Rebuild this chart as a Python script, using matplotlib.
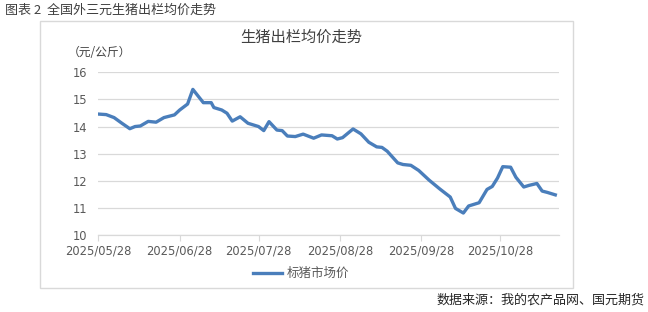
import matplotlib
matplotlib.use("Agg")
import matplotlib.pyplot as plt
import pandas as pd
from matplotlib.patches import Rectangle
from matplotlib.lines import Line2D

plt.rcParams['font.family'] = ['Noto Sans CJK SC', 'DejaVu Sans']

dates = ["2025-05-28", "2025-05-31", "2025-06-03", "2025-06-06", "2025-06-09", "2025-06-11",
         "2025-06-13", "2025-06-16", "2025-06-19", "2025-06-22", "2025-06-26", "2025-06-28",
         "2025-07-01", "2025-07-03", "2025-07-07", "2025-07-10", "2025-07-11", "2025-07-14",
         "2025-07-16", "2025-07-18", "2025-07-21", "2025-07-24", "2025-07-28", "2025-07-30",
         "2025-08-01", "2025-08-04", "2025-08-06", "2025-08-08", "2025-08-11", "2025-08-14",
         "2025-08-18", "2025-08-21", "2025-08-25", "2025-08-27", "2025-08-29", "2025-09-02",
         "2025-09-05", "2025-09-08", "2025-09-11", "2025-09-13", "2025-09-15", "2025-09-19",
         "2025-09-21", "2025-09-24", "2025-09-27", "2025-09-29", "2025-10-01", "2025-10-05",
         "2025-10-09", "2025-10-11", "2025-10-14", "2025-10-16", "2025-10-20", "2025-10-23",
         "2025-10-25", "2025-10-27", "2025-10-29", "2025-11-01", "2025-11-03", "2025-11-06",
         "2025-11-08", "2025-11-11", "2025-11-13", "2025-11-15", "2025-11-18"]
prices = [14.46, 14.44, 14.33, 14.12, 13.92, 14.00,
          14.02, 14.19, 14.16, 14.33, 14.43, 14.61,
          14.83, 15.37, 14.88, 14.88, 14.70, 14.61,
          14.49, 14.20, 14.36, 14.12, 14.00, 13.85,
          14.18, 13.87, 13.85, 13.65, 13.63, 13.72,
          13.57, 13.69, 13.66, 13.54, 13.59, 13.91,
          13.73, 13.42, 13.25, 13.23, 13.09, 12.66,
          12.60, 12.57, 12.38, 12.20, 12.02, 11.70,
          11.40, 10.98, 10.81, 11.07, 11.19, 11.68,
          11.79, 12.10, 12.52, 12.50, 12.13, 11.77,
          11.83, 11.90, 11.62, 11.57, 11.48]
tick_dates = ["2025-05-28", "2025-06-28", "2025-07-28", "2025-08-28", "2025-09-28", "2025-10-28"]
tick_labels = ["2025/05/28", "2025/06/28", "2025/07/28", "2025/08/28", "2025/09/28", "2025/10/28"]
y_ticks = [10, 11, 12, 13, 14, 15, 16]

W, H = 648, 312
fig = plt.figure(figsize=(W / 100, H / 100), dpi=100)

# outer chart box
fig.patches.append(Rectangle((40 / W, 1 - 288 / H), (573 - 40) / W, (288 - 21) / H,
                             transform=fig.transFigure, fill=False,
                             edgecolor='#d9d9d9', linewidth=1.0))

ax = fig.add_axes([98.3 / W, 1 - 235 / H, (558.7 - 98.3) / W, (235 - 72.3) / H])
x = pd.to_datetime(dates)
ax.plot(x, prices, color='#4a7ebb', linewidth=2.4, solid_joinstyle='round')

start = pd.Timestamp("2025-05-28")
ax.set_xlim(start, start + pd.Timedelta(days=175.3))
ax.set_ylim(10, 16)
ax.set_yticks(y_ticks)
ax.set_yticklabels([str(v) for v in y_ticks], fontsize=8.3, color='#595959',
                   family='DejaVu Sans')
ax.set_xticks(pd.to_datetime(tick_dates))
ax.set_xticklabels(tick_labels, fontsize=8.3, color='#595959', family='DejaVu Sans')
ax.tick_params(axis='y', length=0, pad=8)
ax.tick_params(axis='x', length=4, color='#d9d9d9', pad=3, direction='out')
ax.grid(axis='y', color='#d9d9d9', linewidth=0.9)
ax.set_axisbelow(True)
for s in ['top', 'right', 'left']:
    ax.spines[s].set_visible(False)
ax.spines['bottom'].set_color('#d9d9d9')
ax.spines['bottom'].set_linewidth(0.9)

# texts
fig.text(5 / W, 1 - 10 / H, "图表 2  全国外三元生猪出栏均价走势", fontsize=9.4,
         color='#404040', va='center', ha='left')
fig.text(301 / W, 1 - 37 / H, "生猪出栏均价走势", fontsize=11, color='#404040',
         va='center', ha='center')
fig.text(68 / W, 1 - 52 / H, "（元/公斤）", fontsize=8.5, color='#404040',
         va='center', ha='left')
fig.text(645 / W, 1 - 300 / H, "数据来源：我的农产品网、国元期货", fontsize=9.4,
         color='#262626', va='center', ha='right')

# legend
fig.add_artist(Line2D([253 / W, 282 / W], [1 - 273 / H, 1 - 273 / H],
                      transform=fig.transFigure, color='#4a7ebb', linewidth=2.4))
fig.text(287 / W, 1 - 273 / H, "标猪市场价", fontsize=9, color='#595959',
         va='center', ha='left')

fig.savefig("out.png", dpi=100)
